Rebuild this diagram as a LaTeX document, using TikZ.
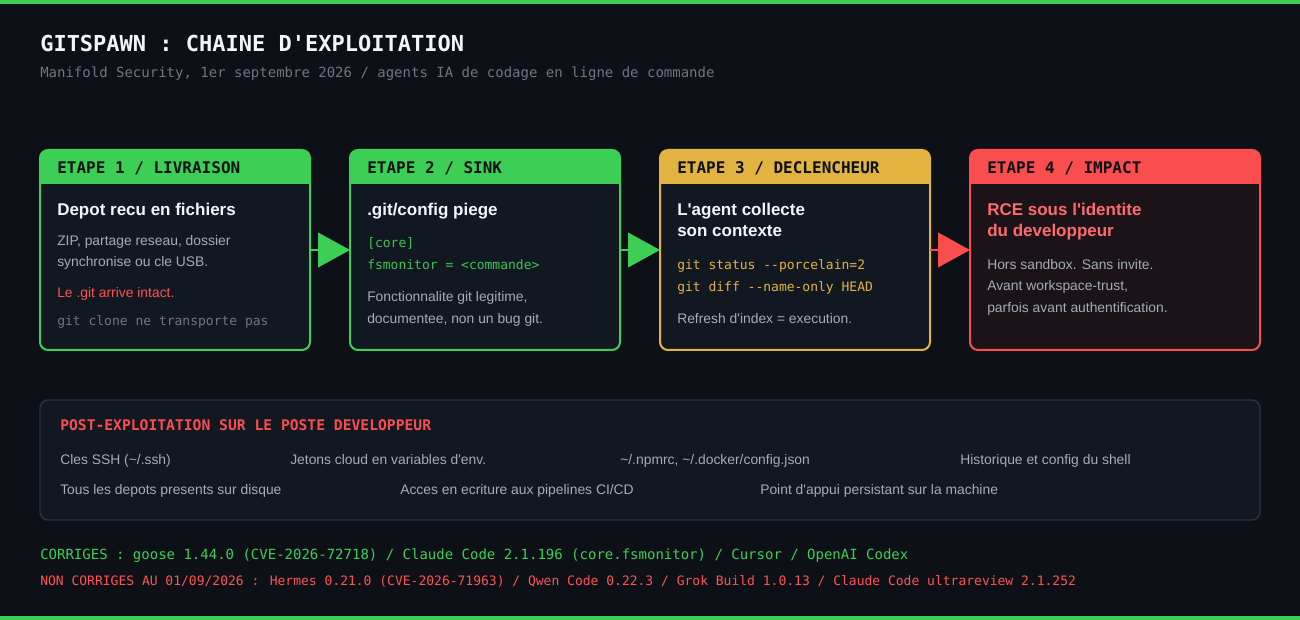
\documentclass[tikz,border=0pt]{standalone}
\usepackage{fontspec}
\setmainfont{Liberation Sans}
\newfontfamily\sansf{Liberation Sans}
\newfontfamily\monof{DejaVu Sans Mono}
\usetikzlibrary{arrows.meta}
\definecolor{bg}{HTML}{0D1117}
\definecolor{boxbg}{HTML}{111822}
\definecolor{redbg}{HTML}{1B1318}
\definecolor{gr}{HTML}{3DCF55}
\definecolor{codegr}{HTML}{3FC452}
\definecolor{yl}{HTML}{E3B341}
\definecolor{rd}{HTML}{FA4D4D}
\definecolor{salmon}{HTML}{FF6B6B}
\definecolor{txtred}{HTML}{FF5252}
\definecolor{white2}{HTML}{F0F6FC}
\definecolor{bodygray}{HTML}{A3ACB7}
\definecolor{dimgray}{HTML}{6E7681}
\definecolor{hdrtext}{HTML}{0D1117}
\definecolor{panelborder}{HTML}{2D333B}
\begin{document}
\begin{tikzpicture}[x=0.75pt,y=-0.75pt,font=\sansf,
  stepbox/.style={draw, line width=1.5pt, rounded corners=6pt, minimum height=150pt, anchor=north west, inner sep=0pt, outer sep=0pt},
  hdr/.style={anchor=base west, inner sep=0pt, font=\monof\bfseries\fontsize{12}{14}\selectfont, text=hdrtext},
  ttl/.style={anchor=base west, inner sep=0pt, font=\sansf\bfseries\fontsize{12.75}{15}\selectfont, text=white2},
  body/.style={anchor=base west, inner sep=0pt, font=\sansf\fontsize{10.4}{12}\selectfont, text=bodygray},
  code/.style={anchor=base west, inner sep=0pt, font=\monof\fontsize{9.75}{12}\selectfont},
  flow/.style={line width=1.5pt, -{Triangle[length=24pt,width=26pt]}},
  plain/.style={anchor=base west, inner sep=0pt}]
\fill[bg] (0,0) rectangle (1300,620);
\useasboundingbox (0,0) rectangle (1300,620);
\fill[gr] (0,0) rectangle (1300,4);
\fill[gr] (0,616) rectangle (1300,620);

% title
\node[plain, font=\monof\bfseries\fontsize{16.5}{20}\selectfont, text=white2] (title) at (40,52) {GITSPAWN : CHAINE D'EXPLOITATION};
\node[plain, font=\monof\fontsize{10.5}{12}\selectfont, text=dimgray] (subtitle) at (40,78) {Manifold Security, 1er septembre 2026 / agents IA de codage en ligne de commande};

% boxes
\node[stepbox, draw=gr, fill=boxbg, minimum width=202.5pt] (b1) at (40,150) {};
\node[stepbox, draw=gr, fill=boxbg, minimum width=202.5pt] (b2) at (350,150) {};
\node[stepbox, draw=yl, fill=boxbg, minimum width=202.5pt] (b3) at (660,150) {};
\node[stepbox, draw=rd, fill=redbg, minimum width=217.5pt] (b4) at (970,150) {};

\foreach \b/\c in {b1/gr,b2/gr,b3/yl,b4/rd}{
  \begin{scope}
    \clip[rounded corners=6pt] (\b.north west) rectangle (\b.south east);
    \fill[\c] ([xshift=-2pt,yshift=2pt]\b.north west) rectangle ([xshift=2pt,yshift=-25.5pt]\b.north east);
  \end{scope}
}

% headers
\node[hdr] (h1) at (57,174) {ETAPE 1 / LIVRAISON};
\node[hdr] (h2) at (367,174) {ETAPE 2 / SINK};
\node[hdr] (h3) at (677,174) {ETAPE 3 / DECLENCHEUR};
\node[hdr] (h4) at (987,174) {ETAPE 4 / IMPACT};

% box 1
\node[ttl] (t1) at (57,216) {Depot recu en fichiers};
\node[body] (t1a) at (57,246) {ZIP, partage reseau, dossier};
\node[body] (t1b) at (57,267) {synchronise ou cle USB.};
\node[body, text=txtred] (t1c) at (57,298) {Le .git arrive intact.};
\node[code, text=dimgray] (t1d) at (57,326) {git clone ne transporte pas};

% box 2
\node[ttl] (t2) at (367,216) {.git/config piege};
\node[code, text=codegr] (t2a) at (367,248) {[core]};
\node[code, text=codegr] (t2b) at (367,270) {fsmonitor = <commande>};
\node[body] (t2c) at (367,302) {Fonctionnalite git legitime,};
\node[body] (t2d) at (367,324) {documentee, non un bug git.};

% box 3
\node[ttl] (t3) at (677,216) {L\textquotesingle agent collecte};
\node[ttl] (t3b) at (677,237) {son contexte};
\node[code, text=yl] (t3c) at (677,270) {git status --porcelain=2};
\node[code, text=yl] (t3d) at (677,292) {git diff --name-only HEAD};
\node[body] (t3e) at (677,324) {Refresh d\textquotesingle index = execution.};

% box 4
\node[ttl, text=salmon] (t4) at (987,216) {RCE sous l\textquotesingle identite};
\node[ttl, text=salmon] (t4b) at (987,237) {du developpeur};
\node[body] (t4c) at (987,270) {Hors sandbox. Sans invite.};
\node[body] (t4d) at (987,291) {Avant workspace-trust,};
\node[body] (t4e) at (987,313) {parfois avant authentification.};

% arrows
\draw[flow, draw=gr, fill=gr] (b1.east) -- (b2.west);
\draw[flow, draw=gr, fill=gr] (b2.east) -- (b3.west);
\draw[flow, draw=rd, fill=rd] (b3.east) -- (b4.west);

% post exploitation panel
\node[draw=panelborder, fill=boxbg, line width=1.1pt, rounded corners=6pt, minimum width=915pt, minimum height=90pt, anchor=north west, inner sep=0pt, outer sep=0pt] (post) at (40,400) {};
\node[plain, font=\monof\bfseries\fontsize{11}{13}\selectfont, text=rd] (pt) at (60,431) {POST-EXPLOITATION SUR LE POSTE DEVELOPPEUR};
\node[body] (p1) at (60,464) {Cles SSH (\textasciitilde/.ssh)};
\node[body] (p2) at (290,464) {Jetons cloud en variables d\textquotesingle env.};
\node[body] (p3) at (620,464) {\textasciitilde/.npmrc, \textasciitilde/.docker/config.json};
\node[body] (p4) at (960,464) {Historique et config du shell};
\node[body] (p5) at (60,494) {Tous les depots presents sur disque};
\node[body] (p6) at (400,494) {Acces en ecriture aux pipelines CI/CD};
\node[body] (p7) at (760,494) {Point d\textquotesingle appui persistant sur la machine};

% footer
\node[plain, font=\monof\fontsize{10.5}{12}\selectfont, text=gr] (f1) at (40,559) {CORRIGES : goose 1.44.0 (CVE-2026-72718) / Claude Code 2.1.196 (core.fsmonitor) / Cursor / OpenAI Codex};
\node[plain, font=\monof\fontsize{9.75}{12}\selectfont, text=txtred] (f2) at (40,585) {NON CORRIGES AU 01/09/2026 : Hermes 0.21.0 (CVE-2026-71963) / Qwen Code 0.22.3 / Grok Build 1.0.13 / Claude Code ultrareview 2.1.252};
\end{tikzpicture}
\end{document}
